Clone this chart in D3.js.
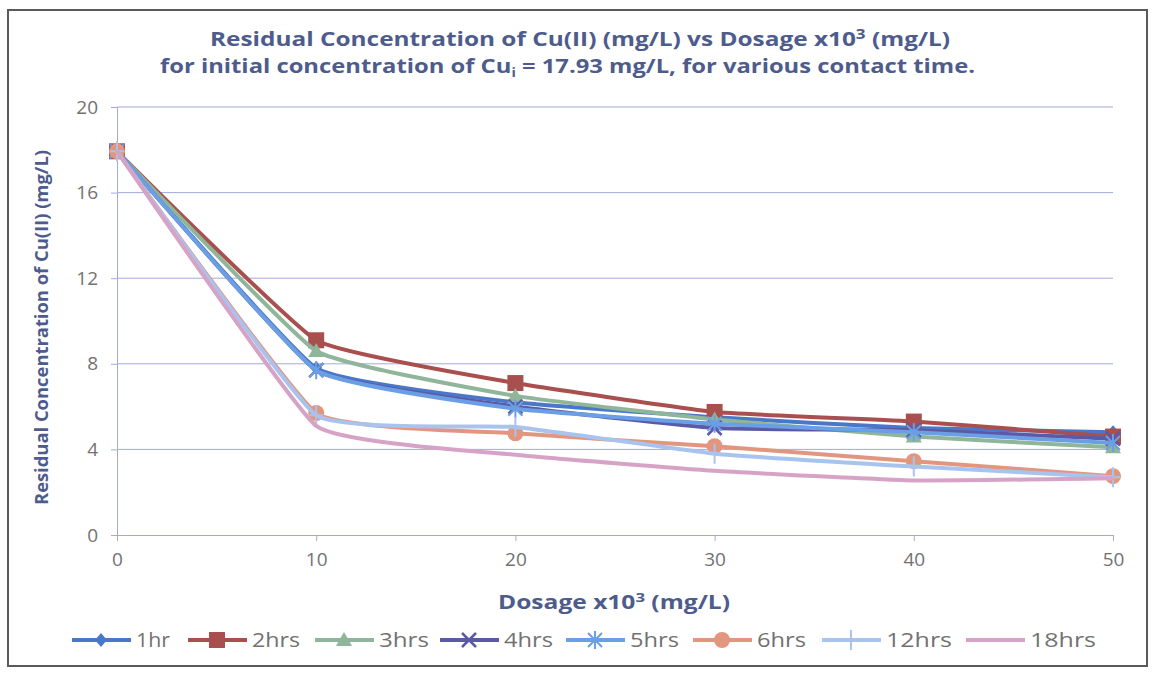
<!DOCTYPE html>
<html>
<head>
<meta charset="utf-8">
<script src="https://cdn.jsdelivr.net/npm/d3@7"></script>
<style>
  html, body { margin: 0; padding: 0; background: #ffffff; }
  svg { display: block; }
  text { font-family: "Open Sans", Lato, "Liberation Sans", sans-serif; }
</style>
</head>
<body>
<svg id="chart" width="1155" height="673"></svg>
<script>
// Dosage (x10^3 mg/L)
const dosage = [0, 10, 20, 30, 40, 50];

// Residual Cu(II) concentration (mg/L) per contact time
const c1hr   = [17.93, 7.8, 6.2, 5.5, 5.0, 4.8];
const c2hrs  = [17.93, 9.1, 7.1, 5.75, 5.3, 4.6];
const c3hrs  = [17.93, 8.6, 6.5, 5.4, 4.6, 4.1];
const c4hrs  = [17.93, 7.7, 6.0, 5.0, 4.9, 4.5];
const c5hrs  = [17.93, 7.7, 5.9, 5.2, 4.8, 4.3];
const c6hrs  = [17.93, 5.7, 4.75, 4.15, 3.45, 2.75];
const c12hrs = [17.93, 5.6, 5.05, 3.8, 3.2, 2.7];
const c18hrs = [17.93, 5.1, 3.75, 3.0, 2.55, 2.65];

const seriesNames = ["1hr", "2hrs", "3hrs", "4hrs", "5hrs", "6hrs", "12hrs", "18hrs"];
const seriesValues = [c1hr, c2hrs, c3hrs, c4hrs, c5hrs, c6hrs, c12hrs, c18hrs];
const seriesColors = ["#4a78c8", "#a9504e", "#8fb59a", "#5c5aa6", "#6a9fe6", "#e3967e", "#a9c3ef", "#d6a3c6"];
const seriesMarkers = ["diamond", "square", "triangle", "x", "asterisk", "circle", "plus", "none"];

const yTicks = [0, 4, 8, 12, 16, 20];
const xTicks = [0, 10, 20, 30, 40, 50];

const svg = d3.select("#chart");

// outer chart frame
svg.append("rect")
  .attr("x", 8).attr("y", 10).attr("width", 1139).attr("height", 656)
  .attr("fill", "#ffffff").attr("stroke", "#5a5a5a").attr("stroke-width", 2);

const x = d3.scaleLinear().domain([0, 50]).range([117, 1113]);
const y = d3.scaleLinear().domain([0, 20]).range([535, 107]);

const gridColor = "#a3aadb";
const textGray = "#727272";
const titleColor = "#4d5c8c";

// horizontal gridlines
svg.append("g")
  .selectAll("line")
  .data(yTicks.filter(d => d > 0))
  .join("line")
  .attr("x1", x(0)).attr("x2", x(50))
  .attr("y1", d => y(d)).attr("y2", d => y(d))
  .attr("stroke", gridColor).attr("stroke-width", 1);

// y axis
const yAxis = svg.append("g")
  .attr("transform", `translate(${x(0)},0)`)
  .call(d3.axisLeft(y).tickValues(yTicks).tickSize(6).tickPadding(13));
yAxis.select(".domain").attr("stroke", gridColor);
yAxis.selectAll(".tick line").attr("stroke", gridColor);
yAxis.selectAll(".tick text")
  .attr("fill", textGray).attr("font-size", 19)
  .style("font-family", "'Open Sans', sans-serif");

// x axis
const xAxis = svg.append("g")
  .attr("transform", `translate(0,${y(0)})`)
  .call(d3.axisBottom(x).tickValues(xTicks).tickSize(6).tickPadding(12));
xAxis.select(".domain").attr("stroke", gridColor);
xAxis.selectAll(".tick line").attr("stroke", gridColor);
xAxis.selectAll(".tick text")
  .attr("fill", textGray).attr("font-size", 19)
  .style("font-family", "'Open Sans', sans-serif");

// marker shapes
function drawMarker(g, type, cx, cy, color) {
  const s = 7;
  if (type === "diamond") {
    g.append("path").attr("d", `M${cx},${cy - 7}L${cx + 6},${cy}L${cx},${cy + 7}L${cx - 6},${cy}Z`)
      .attr("fill", color);
  } else if (type === "square") {
    g.append("rect").attr("x", cx - 8).attr("y", cy - 8).attr("width", 16).attr("height", 16)
      .attr("fill", color);
  } else if (type === "triangle") {
    g.append("path").attr("d", `M${cx},${cy - 8}L${cx + 8},${cy + 6}L${cx - 8},${cy + 6}Z`)
      .attr("fill", color);
  } else if (type === "x") {
    g.append("path").attr("d", `M${cx - s},${cy - s}L${cx + s},${cy + s}M${cx - s},${cy + s}L${cx + s},${cy - s}`)
      .attr("stroke", color).attr("stroke-width", 2.5).attr("fill", "none");
  } else if (type === "asterisk") {
    g.append("path").attr("d", `M${cx - s},${cy - s}L${cx + s},${cy + s}M${cx - s},${cy + s}L${cx + s},${cy - s}M${cx},${cy - 9}L${cx},${cy + 9}`)
      .attr("stroke", color).attr("stroke-width", 2).attr("fill", "none");
  } else if (type === "circle") {
    g.append("circle").attr("cx", cx).attr("cy", cy).attr("r", 8).attr("fill", color);
  } else if (type === "plus") {
    g.append("path").attr("d", `M${cx},${cy - 10}L${cx},${cy + 10}M${cx - 7},${cy}L${cx + 7},${cy}`)
      .attr("stroke", color).attr("stroke-width", 2).attr("fill", "none");
  }
}

const line = d3.line()
  .x(d => x(d[0]))
  .y(d => y(d[1]))
  .curve(d3.curveCardinal.tension(0.65));

const plot = svg.append("g");
seriesNames.forEach((name, i) => {
  const pts = dosage.map((d, j) => [d, seriesValues[i][j]]);
  const g = plot.append("g");
  g.append("path")
    .attr("d", line(pts))
    .attr("fill", "none")
    .attr("stroke", seriesColors[i])
    .attr("stroke-width", 4)
    .attr("stroke-linejoin", "round")
    .attr("stroke-linecap", "round");
  pts.forEach(p => drawMarker(g, seriesMarkers[i], x(p[0]), y(p[1]), seriesColors[i]));
});

// titles
svg.append("text")
  .attr("x", 210).attr("y", 46)
  .attr("textLength", 740).attr("lengthAdjust", "spacingAndGlyphs")
  .attr("font-size", 20).attr("font-weight", "bold").attr("fill", titleColor)
  .html('Residual Concentration of Cu(II) (mg/L) vs Dosage x10<tspan dy="-7" font-size="14">3</tspan><tspan dy="7"> (mg/L)</tspan>');

svg.append("text")
  .attr("x", 160).attr("y", 73)
  .attr("textLength", 815).attr("lengthAdjust", "spacingAndGlyphs")
  .attr("font-size", 20).attr("font-weight", "bold").attr("fill", titleColor)
  .html('for initial concentration of Cu<tspan dy="4" font-size="12">i</tspan><tspan dy="-4"> = 17.93 mg/L, for various contact time.</tspan>');

svg.append("text")
  .attr("x", 498).attr("y", 609)
  .attr("textLength", 232).attr("lengthAdjust", "spacingAndGlyphs")
  .attr("font-size", 19).attr("font-weight", "bold").attr("fill", titleColor)
  .html('Dosage x10<tspan dy="-7" font-size="13">3</tspan><tspan dy="7"> (mg/L)</tspan>');

svg.append("text")
  .attr("transform", "translate(48,505) rotate(-90)")
  .attr("textLength", 355).attr("lengthAdjust", "spacingAndGlyphs")
  .attr("font-size", 17).attr("font-weight", "bold").attr("fill", titleColor)
  .text("Residual Concentration of Cu(II) (mg/L)");

// legend entries: line start, label width
const legendX = [72, 188, 315, 440, 566, 693, 822, 966];
const legendLabelW = [34, 48, 50, 49, 49, 49, 66, 66];
const legend = svg.append("g");
seriesNames.forEach((name, i) => {
  const lx = legendX[i], ly = 640;
  const g = legend.append("g");
  g.append("line")
    .attr("x1", lx).attr("x2", lx + 59).attr("y1", ly).attr("y2", ly)
    .attr("stroke", seriesColors[i]).attr("stroke-width", 4);
  drawMarker(g, seriesMarkers[i], lx + 29, ly, seriesColors[i]);
  g.append("text")
    .attr("x", lx + 64).attr("y", ly + 7)
    .attr("textLength", legendLabelW[i]).attr("lengthAdjust", "spacingAndGlyphs")
    .attr("font-size", 20).attr("fill", textGray)
    .text(name);
});
</script>
</body>
</html>
